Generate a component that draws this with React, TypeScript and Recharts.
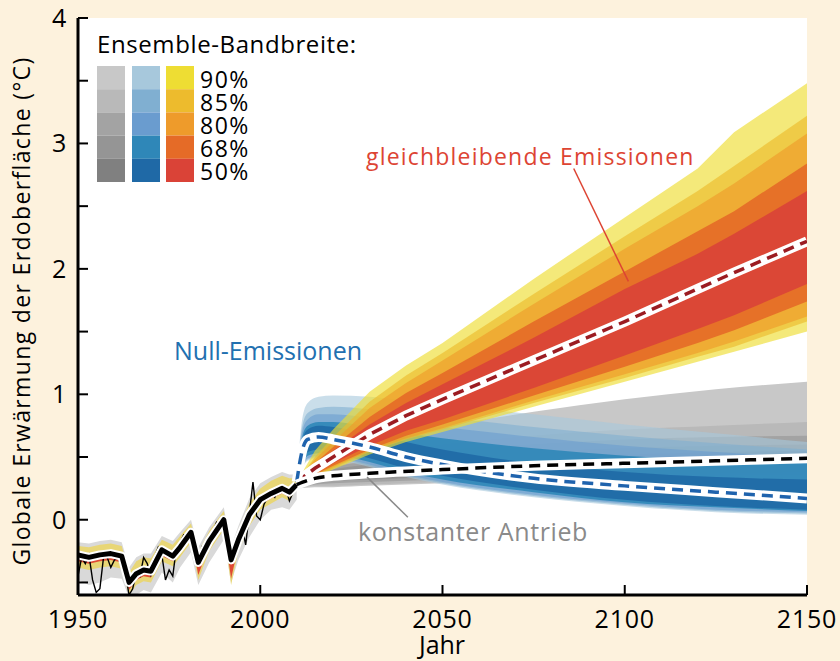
import React from "react"
import { Area, CartesianGrid, ComposedChart, Line, ReferenceLine, XAxis, YAxis } from "recharts"

const FONT = "'Open Sans', 'Noto Sans', sans-serif"

// observed annual record (thin line)
const obsYears = [1950, 1951, 1952, 1953, 1954, 1955, 1956, 1957, 1958, 1959, 1960, 1961, 1962, 1963, 1964, 1965, 1966, 1967, 1968, 1969, 1970, 1971, 1972, 1973, 1974, 1975, 1976, 1977, 1978, 1979, 1980, 1981, 1982, 1983, 1984, 1985, 1986, 1987, 1988, 1989, 1990, 1991, 1992, 1993, 1994, 1995, 1996, 1997, 1998, 1999, 2000, 2001, 2002, 2003, 2004, 2005, 2006, 2007, 2008, 2009]
const obsTemp = [-0.45, -0.3, -0.35, -0.28, -0.48, -0.58, -0.55, -0.3, -0.3, -0.38, -0.32, -0.3, -0.38, -0.42, -0.6, -0.55, -0.42, -0.45, -0.3, -0.35, -0.45, -0.3, -0.22, -0.28, -0.48, -0.4, -0.45, -0.22, -0.18, -0.12, -0.14, -0.1, -0.3, -0.35, -0.22, -0.28, -0.15, -0.1, -0.02, -0.05, 0.02, -0.1, -0.3, -0.28, -0.12, -0.05, -0.2, 0.05, 0.3, 0.03, 0.0, 0.12, 0.18, 0.22, 0.18, 0.26, 0.22, 0.25, 0.15, 0.22]

// historical model mean (thick line) and spreads
const histYears = [1950, 1953, 1956, 1959, 1962, 1964, 1966, 1968, 1970, 1973, 1976, 1978, 1981, 1983, 1986, 1990, 1992, 1994, 1997, 2000, 2003, 2006, 2008, 2010]
const histMean = [-0.28, -0.3, -0.28, -0.27, -0.29, -0.5, -0.43, -0.4, -0.41, -0.24, -0.29, -0.22, -0.1, -0.34, -0.17, 0.0, -0.32, -0.16, 0.04, 0.16, 0.21, 0.25, 0.22, 0.28]
const hist90Hi = [-0.21, -0.22, -0.2, -0.19, -0.21, -0.42, -0.33, -0.3, -0.31, -0.16, -0.2, -0.13, -0.03, -0.26, -0.09, 0.07, -0.25, -0.08, 0.13, 0.25, 0.31, 0.35, 0.33, 0.33]
const hist90Lo = [-0.38, -0.4, -0.38, -0.37, -0.39, -0.6, -0.52, -0.49, -0.5, -0.33, -0.37, -0.3, -0.18, -0.48, -0.25, -0.08, -0.52, -0.25, -0.05, 0.08, 0.13, 0.18, 0.15, 0.25]
const hist50Hi = [-0.26, -0.28, -0.26, -0.25, -0.27, -0.48, -0.41, -0.38, -0.39, -0.22, -0.27, -0.2, -0.08, -0.32, -0.15, 0.02, -0.3, -0.14, 0.06, 0.18, 0.23, 0.27, 0.24, 0.29]
const hist50Lo = [-0.33, -0.35, -0.33, -0.32, -0.34, -0.56, -0.48, -0.45, -0.46, -0.29, -0.33, -0.26, -0.14, -0.44, -0.21, -0.05, -0.47, -0.21, -0.01, 0.12, 0.17, 0.21, 0.18, 0.27]
const obsHi = [-0.18, -0.19, -0.17, -0.16, -0.18, -0.38, -0.3, -0.27, -0.27, -0.13, -0.17, -0.1, 0.0, -0.22, -0.06, 0.1, -0.22, -0.05, 0.17, 0.29, 0.34, 0.38, 0.36, 0.36]
const obsLo = [-0.48, -0.52, -0.5, -0.46, -0.47, -0.62, -0.6, -0.56, -0.58, -0.42, -0.5, -0.38, -0.26, -0.52, -0.34, -0.16, -0.5, -0.32, -0.14, 0.0, 0.08, 0.1, 0.08, 0.16]

// gleichbleibende Emissionen
const ceYears = [2010, 2015, 2020, 2030, 2040, 2050, 2075, 2100, 2120, 2130, 2150]
const ceMedian = [0.3, 0.41, 0.5, 0.68, 0.83, 0.96, 1.27, 1.58, 1.84, 1.97, 2.22]
const ce90Hi = [0.3, 0.55, 0.72, 1.02, 1.23, 1.41, 1.92, 2.41, 2.8, 3.09, 3.48]
const ce85Hi = [0.3, 0.5, 0.66, 0.94, 1.15, 1.33, 1.8, 2.26, 2.62, 2.82, 3.22]
const ce80Hi = [0.3, 0.48, 0.62, 0.89, 1.09, 1.27, 1.72, 2.16, 2.5, 2.68, 3.08]
const ce68Hi = [0.3, 0.45, 0.58, 0.82, 1.01, 1.17, 1.58, 1.98, 2.3, 2.46, 2.84]
const ce50Hi = [0.3, 0.43, 0.55, 0.76, 0.93, 1.08, 1.45, 1.84, 2.12, 2.28, 2.62]
const ce50Lo = [0.3, 0.38, 0.45, 0.59, 0.71, 0.8, 1.05, 1.31, 1.52, 1.63, 1.88]
const ce68Lo = [0.3, 0.36, 0.43, 0.56, 0.67, 0.76, 0.99, 1.22, 1.41, 1.51, 1.74]
const ce80Lo = [0.3, 0.35, 0.42, 0.55, 0.65, 0.73, 0.95, 1.16, 1.33, 1.42, 1.62]
const ce85Lo = [0.29, 0.34, 0.41, 0.54, 0.64, 0.72, 0.93, 1.13, 1.3, 1.38, 1.58]
const ce90Lo = [0.28, 0.33, 0.4, 0.52, 0.62, 0.7, 0.9, 1.1, 1.26, 1.34, 1.5]

// Null-Emissionen
const zeYears = [2010, 2011.5, 2013, 2016, 2020, 2030, 2040, 2050, 2075, 2100, 2125, 2150]
const zeMedian = [0.3, 0.55, 0.64, 0.66, 0.64, 0.58, 0.5, 0.44, 0.33, 0.27, 0.22, 0.17]
const ze90Hi = [0.3, 0.8, 0.93, 0.98, 0.99, 0.98, 0.95, 0.92, 0.84, 0.76, 0.69, 0.62]
const ze85Hi = [0.3, 0.74, 0.85, 0.89, 0.9, 0.88, 0.85, 0.82, 0.74, 0.67, 0.61, 0.56]
const ze80Hi = [0.3, 0.7, 0.8, 0.84, 0.84, 0.81, 0.77, 0.74, 0.66, 0.59, 0.54, 0.5]
const ze68Hi = [0.3, 0.66, 0.75, 0.78, 0.78, 0.74, 0.69, 0.65, 0.57, 0.51, 0.47, 0.45]
const ze50Hi = [0.3, 0.63, 0.72, 0.75, 0.74, 0.69, 0.62, 0.56, 0.45, 0.38, 0.34, 0.32]
const ze50Lo = [0.3, 0.47, 0.54, 0.56, 0.55, 0.49, 0.41, 0.35, 0.24, 0.16, 0.11, 0.08]
const ze68Lo = [0.3, 0.45, 0.51, 0.53, 0.52, 0.46, 0.38, 0.32, 0.22, 0.14, 0.1, 0.07]
const ze80Lo = [0.3, 0.43, 0.49, 0.51, 0.5, 0.44, 0.36, 0.3, 0.2, 0.13, 0.08, 0.06]
const ze85Lo = [0.3, 0.42, 0.48, 0.5, 0.49, 0.43, 0.35, 0.29, 0.19, 0.12, 0.07, 0.05]
const ze90Lo = [0.3, 0.41, 0.47, 0.49, 0.48, 0.42, 0.34, 0.28, 0.18, 0.11, 0.06, 0.04]

// konstanter Antrieb
const cfYears = [2010, 2015, 2020, 2030, 2050, 2075, 2100, 2125, 2150]
const cfMedian = [0.28, 0.33, 0.35, 0.37, 0.4, 0.43, 0.45, 0.47, 0.49]
const cf90Hi = [0.3, 0.45, 0.52, 0.61, 0.74, 0.86, 0.96, 1.04, 1.1]
const cf85Hi = [0.3, 0.4, 0.45, 0.51, 0.6, 0.67, 0.72, 0.75, 0.78]
const cf80Hi = [0.3, 0.38, 0.42, 0.47, 0.55, 0.6, 0.64, 0.66, 0.67]
const cf68Hi = [0.29, 0.36, 0.4, 0.44, 0.5, 0.54, 0.57, 0.59, 0.6]
const cf50Hi = [0.29, 0.35, 0.38, 0.41, 0.46, 0.5, 0.52, 0.54, 0.55]
const cf50Lo = [0.27, 0.31, 0.32, 0.34, 0.36, 0.39, 0.41, 0.43, 0.44]
const cf68Lo = [0.27, 0.3, 0.31, 0.32, 0.34, 0.37, 0.39, 0.4, 0.41]
const cf80Lo = [0.26, 0.28, 0.29, 0.3, 0.32, 0.34, 0.36, 0.37, 0.38]
const cf85Lo = [0.26, 0.27, 0.27, 0.28, 0.3, 0.32, 0.34, 0.35, 0.36]
const cf90Lo = [0.25, 0.26, 0.26, 0.27, 0.29, 0.31, 0.33, 0.34, 0.35]

const xTicks = [1950, 2000, 2050, 2100, 2150]
const yTicks = [-0.5, 0, 0.5, 1, 1.5, 2, 2.5, 3, 3.5, 4]
const levelLabels = ["90%", "85%", "80%", "68%", "50%"]

const grayColors = ["#c8c8c8", "#b9b9b9", "#a3a3a3", "#959595", "#808080"]
const blueColors = ["#a7c8dc", "#80afd1", "#6a9ccf", "#2f87b8", "#1f69a6"]
const warmColors = ["#eedd33", "#edbb2d", "#ee9b2b", "#e56b27", "#da4337"]

const band = (years: number[], lo: number[], hi: number[]) => years.map((x, i) => ({ x, r: [lo[i], hi[i]] }))
const pts = (years: number[], ys: number[]) => years.map((x, i) => ({ x, y: ys[i] }))

const cfBands = [
  band(cfYears, cf90Lo, cf90Hi),
  band(cfYears, cf85Lo, cf85Hi),
  band(cfYears, cf80Lo, cf80Hi),
  band(cfYears, cf68Lo, cf68Hi),
  band(cfYears, cf50Lo, cf50Hi),
]
const zeBands = [
  band(zeYears, ze90Lo, ze90Hi),
  band(zeYears, ze85Lo, ze85Hi),
  band(zeYears, ze80Lo, ze80Hi),
  band(zeYears, ze68Lo, ze68Hi),
  band(zeYears, ze50Lo, ze50Hi),
]
const ceBands = [
  band(ceYears, ce90Lo, ce90Hi),
  band(ceYears, ce85Lo, ce85Hi),
  band(ceYears, ce80Lo, ce80Hi),
  band(ceYears, ce68Lo, ce68Hi),
  band(ceYears, ce50Lo, ce50Hi),
]

const YTick = (props: any) => {
  const { x, y, payload } = props
  const v = payload.value
  return (
    <g>
      <line x1={x} x2={x + 10} y1={y} y2={y} stroke="#000" strokeWidth={2} />
      {Number.isInteger(v) && (
        <text x={x - 11} y={y} dy="0.36em" textAnchor="end" fontSize={25} letterSpacing={0.8} fontFamily={FONT} fill="#000">
          {v}
        </text>
      )}
    </g>
  )
}

const XTick = (props: any) => {
  const { x, y, payload } = props
  return (
    <g>
      <line x1={x} x2={x} y1={y} y2={y - 10} stroke="#000" strokeWidth={2} />
      <text x={x} y={y + 33} textAnchor="middle" fontSize={25} letterSpacing={0.8} fontFamily={FONT} fill="#000">
        {payload.value}
      </text>
    </g>
  )
}

export default function App() {
  return (
    <div style={{ position: "absolute", left: 0, top: 0, width: 840, height: 661, background: "#fdf2dd" }}>
      <ComposedChart width={840} height={661} margin={{ top: 18, right: 33, bottom: 0, left: 0 }}>
        <CartesianGrid horizontal={false} vertical={false} fill="#ffffff" fillOpacity={1} />
        <XAxis
          dataKey="x"
          type="number"
          domain={[1950, 2150]}
          ticks={xTicks}
          interval={0}
          height={66}
          tickSize={0}
          tickMargin={0}
          tickLine={false}
          tick={<XTick />}
          axisLine={{ stroke: "#000", strokeWidth: 3 }}
          allowDataOverflow
        />
        <XAxis xAxisId="top" orientation="top" type="number" domain={[1950, 2150]} height={0} tick={false} tickLine={false} axisLine={{ stroke: "#000", strokeWidth: 3 }} />
        <YAxis
          type="number"
          domain={[-0.6, 4]}
          ticks={yTicks}
          interval={0}
          width={78}
          tickSize={0}
          tickMargin={0}
          tickLine={false}
          tick={<YTick />}
          axisLine={{ stroke: "#000", strokeWidth: 3 }}
          allowDataOverflow
        />
        <YAxis yAxisId="right" orientation="right" type="number" domain={[-0.6, 4]} width={0} tick={false} tickLine={false} axisLine={{ stroke: "#000", strokeWidth: 3 }} />

        {/* historical spread */}
        <Area data={band(histYears, obsLo, obsHi)} dataKey="r" type="linear" stroke="none" fill="#d9d9d9" fillOpacity={1} isAnimationActive={false} activeDot={false} />
        <Area data={band(histYears, hist90Lo, hist90Hi)} dataKey="r" type="linear" stroke="none" fill="#e8d676" fillOpacity={1} isAnimationActive={false} activeDot={false} />
        <Area data={band(histYears, hist50Lo, hist50Hi)} dataKey="r" type="linear" stroke="none" fill="#df4a35" fillOpacity={1} isAnimationActive={false} activeDot={false} />
        <Line data={pts(obsYears, obsTemp)} dataKey="y" type="linear" stroke="#000" strokeWidth={1.4} dot={false} activeDot={false} isAnimationActive={false} />

        {/* konstanter Antrieb */}
        {cfBands.map((d, i) => (
          <Area key={"cf" + i} data={d} dataKey="r" type="monotone" stroke="none" fill={grayColors[i]} fillOpacity={1} isAnimationActive={false} activeDot={false} />
        ))}
        {/* Null-Emissionen */}
        {zeBands.map((d, i) => (
          <Area key={"ze" + i} data={d} dataKey="r" type="monotone" stroke="none" fill={blueColors[i]} fillOpacity={i < 3 ? 0.6 : 0.9} isAnimationActive={false} activeDot={false} />
        ))}
        {/* gleichbleibende Emissionen */}
        {ceBands.map((d, i) => (
          <Area key={"ce" + i} data={d} dataKey="r" type="linear" stroke="none" fill={warmColors[i]} fillOpacity={i < 3 ? 0.65 : 0.92} isAnimationActive={false} activeDot={false} />
        ))}

        {/* historical mean */}
        <Line data={pts(histYears, histMean)} dataKey="y" type="linear" stroke="#fff" strokeWidth={9} strokeLinejoin="round" dot={false} activeDot={false} isAnimationActive={false} />
        <Line data={pts(histYears, histMean)} dataKey="y" type="linear" stroke="#000" strokeWidth={5} strokeLinejoin="round" dot={false} activeDot={false} isAnimationActive={false} />

        {/* medians */}
        <Line data={pts(ceYears, ceMedian)} dataKey="y" type="linear" stroke="#fff" strokeWidth={10} dot={false} activeDot={false} isAnimationActive={false} />
        <Line data={pts(ceYears, ceMedian)} dataKey="y" type="linear" stroke="#9b1c22" strokeWidth={3.5} strokeDasharray="11 7" dot={false} activeDot={false} isAnimationActive={false} />
        <Line data={pts(zeYears, zeMedian)} dataKey="y" type="monotone" stroke="#fff" strokeWidth={10} dot={false} activeDot={false} isAnimationActive={false} />
        <Line data={pts(zeYears, zeMedian)} dataKey="y" type="monotone" stroke="#1f63ad" strokeWidth={3.5} strokeDasharray="11 7" dot={false} activeDot={false} isAnimationActive={false} />
        <Line data={pts(cfYears, cfMedian)} dataKey="y" type="monotone" stroke="#fff" strokeWidth={10} dot={false} activeDot={false} isAnimationActive={false} />
        <Line data={pts(cfYears, cfMedian)} dataKey="y" type="monotone" stroke="#000" strokeWidth={3.5} strokeDasharray="11 7" dot={false} activeDot={false} isAnimationActive={false} />

        {/* leader lines */}
        <ReferenceLine segment={[{ x: 2086, y: 2.8 }, { x: 2101, y: 1.9 }]} stroke="#dd4433" strokeWidth={1.5} />
        <ReferenceLine segment={[{ x: 2029.3, y: 0.34 }, { x: 2040.5, y: 0.02 }]} stroke="#8a8a8a" strokeWidth={1.5} />
      </ComposedChart>

      <svg width={840} height={661} style={{ position: "absolute", left: 0, top: 0, pointerEvents: "none" }} fontFamily={FONT}>
        <text x={97} y={53} fontSize={24} letterSpacing={0.6} fill="#000">Ensemble-Bandbreite:</text>
        {levelLabels.map((t, i) => (
          <g key={t}>
            <rect x={97} y={66 + i * 23.2} width={28} height={23.2} fill={grayColors[i]} />
            <rect x={132} y={66 + i * 23.2} width={28} height={23.2} fill={blueColors[i]} />
            <rect x={166} y={66 + i * 23.2} width={28} height={23.2} fill={warmColors[i]} />
          </g>
        ))}
        <text x={200} y={88} fontSize={23} letterSpacing={1.5} fill="#000">
          {levelLabels.map((t, i) => (
            <tspan key={t} x={200} dy={i === 0 ? 0 : 23}>
              {t}
            </tspan>
          ))}
        </text>
        <text x={366} y={165} fontSize={23} letterSpacing={1.2} fill="#dd4433">gleichbleibende Emissionen</text>
        <text x={174} y={360} fontSize={25} fill="#2270b0">Null-Emissionen</text>
        <text x={358} y={541} fontSize={25} letterSpacing={0.6} fill="#8a8a8a">konstanter Antrieb</text>
        <text x={442} y={654} fontSize={25} textAnchor="middle" fill="#000">Jahr</text>
        <text transform="translate(30,311) rotate(-90)" fontSize={23} letterSpacing={1.35} textAnchor="middle" fill="#000">
          Globale Erwärmung der Erdoberfläche (°C)
        </text>
      </svg>
    </div>
  )
}
